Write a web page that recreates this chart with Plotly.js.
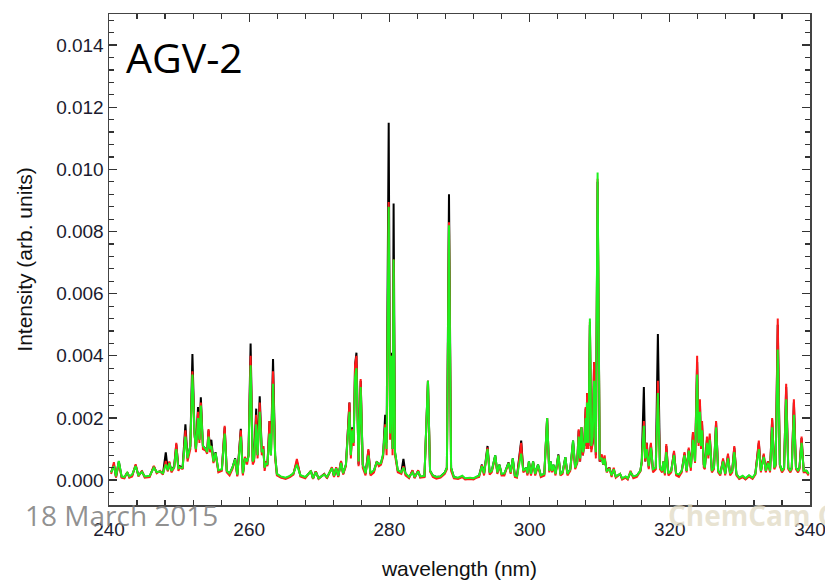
<!DOCTYPE html>
<html>
<head>
<meta charset="utf-8">
<script src="https://cdn.plot.ly/plotly-3.0.1.min.js"></script>
<style>html,body{margin:0;padding:0;background:#fff;}#chart{width:825px;height:580px;}</style>
</head>
<body>
<div id="chart"></div>
<script>
// wavelength (nm)
const wavelength = [
240.3,240.7,241.0,241.4,241.8,242.2,242.6,242.9,243.3,243.8,
244.2,244.7,245.1,245.8,246.4,246.8,247.3,247.7,248.1,248.4,
248.6,248.9,249.3,249.6,249.9,250.1,250.5,250.9,251.2,251.6,
251.9,252.2,252.4,252.7,252.9,253.1,253.4,253.8,254.0,254.2,
254.4,254.6,254.9,255.2,255.6,256.1,256.5,256.8,257.2,257.6,
258.0,258.3,258.8,259.1,259.4,259.7,259.9,260.2,260.5,260.7,
261.0,261.2,261.5,261.8,262.0,262.2,262.4,262.6,262.9,263.1,
263.4,263.7,263.95,264.5,265.2,265.8,266.3,266.8,267.3,268.0,
268.8,269.1,269.5,269.9,270.7,271.1,271.8,272.1,272.4,272.7,
273.1,273.4,273.8,274.3,274.5,274.7,274.9,275.1,275.3,275.6,
275.9,276.2,276.6,277.0,277.3,277.8,278.2,278.5,278.8,279.1,
279.4,279.6,279.9,280.1,280.3,280.45,280.6,280.8,281.2,281.7,
282.0,282.3,282.8,283.3,283.6,284.1,284.4,285.0,285.5,285.8,
286.2,286.7,287.3,287.9,288.2,288.5,288.8,289.2,289.8,290.4,
290.8,291.5,292.0,292.4,292.8,293.2,293.5,294.0,294.3,294.6,
295.1,295.4,295.7,296.0,296.4,297.0,297.3,297.6,297.9,298.2,
298.8,299.1,299.5,299.7,299.9,300.2,300.5,300.8,301.2,301.6,
302.1,302.5,302.8,303.0,303.2,303.4,303.7,304.1,304.4,304.7,
305.1,305.4,305.8,306.2,306.5,306.8,307.0,307.2,307.4,307.6,
307.8,308.0,308.1,308.2,308.4,308.6,308.8,309.0,309.2,309.45,
309.7,310.0,310.3,310.5,310.7,311.0,311.4,311.7,312.0,312.3,
312.9,313.2,313.7,314.0,314.4,314.8,315.3,315.8,316.0,316.3,
316.5,316.7,317.0,317.3,317.6,318.0,318.3,318.6,318.9,319.1,
319.3,319.5,319.8,320.2,320.6,320.9,321.3,321.7,322.1,322.4,
322.7,323.0,323.3,323.6,323.9,324.1,324.3,324.45,324.6,324.85,
325.0,325.3,325.5,325.7,326.0,326.3,326.6,326.9,327.2,327.6,
327.9,328.3,328.6,328.9,329.2,329.5,329.9,330.4,330.8,331.3,
331.8,332.2,332.7,333.0,333.4,333.7,334.0,334.3,334.6,334.9,
335.1,335.4,335.7,336.0,336.3,336.6,336.9,337.2,337.4,337.7,
338.0,338.3,338.5,338.8,339.1,339.5,339.8
];
// intensity, black spectrum
const blackSeries = [
.00025,.00050,.00010,.00060,.00010,.00008,.00025,.00010,.00015,.00048,
.00015,.00028,.00010,.00012,.00044,.00025,.00028,.00020,.00089,.00030,
.00058,.00030,.00045,.00115,.00040,.00045,.00040,.00180,.00070,.00110,
.00406,.00150,.00100,.00235,.00130,.00267,.00110,.00100,.00090,.00160,
.00100,.00130,.00060,.00090,.00030,.00035,.00170,.00030,.00020,.00040,
.00070,.00015,.00165,.00020,.00070,.00060,.00080,.00440,.00060,.00070,
.00230,.00080,.00270,.00090,.00110,.00040,.00060,.00050,.00190,.00080,
.00390,.00080,.00020,.00010,.00006,.00012,.00020,.00060,.00015,.00008,
.00030,.00005,.00028,.00005,.00020,.00008,.00040,.00012,.00040,.00012,
.00060,.00020,.00050,.00250,.00080,.00170,.00120,.00370,.00410,.00050,
.00320,.00050,.00020,.00095,.00020,.00030,.00060,.00050,.00055,.00080,
.00210,.00120,.01150,.00150,.00410,.00100,.00890,.00090,.00030,.00025,
.00068,.00020,.00008,.00030,.00008,.00030,.00010,.00012,.00320,.00030,
.00015,.00010,.00012,.00025,.00040,.00920,.00040,.00010,.00006,.00012,
.00004,.00006,.00004,.00010,.00015,.00050,.00020,.00110,.00025,.00030,
.00080,.00025,.00050,.00020,.00020,.00057,.00025,.00070,.00015,.00012,
.00127,.00030,.00040,.00020,.00060,.00020,.00060,.00020,.00050,.00015,
.00020,.00200,.00030,.00060,.00030,.00050,.00020,.00083,.00020,.00025,
.00074,.00020,.00035,.00127,.00040,.00060,.00160,.00060,.00170,.00080,
.00120,.00230,.00110,.00280,.00110,.00500,.00100,.00120,.00380,.00080,
.00960,.00060,.00075,.00050,.00070,.00030,.00040,.00015,.00035,.00010,
.00020,.00005,.00010,.00004,.00025,.00010,.00015,.00030,.00060,.00300,
.00060,.00120,.00040,.00115,.00030,.00040,.00470,.00040,.00030,.00060,
.00020,.00110,.00020,.00030,.00090,.00020,.00015,.00030,.00085,.00030,
.00100,.00040,.00150,.00060,.00380,.00120,.00250,.00110,.00180,.00050,
.00040,.00130,.00080,.00140,.00030,.00040,.00185,.00030,.00020,.00065,
.00020,.00080,.00020,.00030,.00105,.00020,.00006,.00012,.00004,.00014,
.00006,.00020,.00120,.00030,.00080,.00030,.00060,.00030,.00195,.00040,
.00050,.00500,.00050,.00030,.00040,.00300,.00040,.00030,.00040,.00250,
.00040,.00030,.00040,.00135,.00030,.00030,.00020
];
// intensity, red spectrum
const redSeries = [
.00020,.00058,.00008,.00055,.00008,.00006,.00026,.00008,.00012,.00051,
.00012,.00030,.00008,.00010,.00046,.00022,.00030,.00018,.00062,.00028,
.00060,.00025,.00040,.00120,.00030,.00042,.00035,.00160,.00060,.00100,
.00350,.00150,.00090,.00220,.00120,.00250,.00100,.00095,.00085,.00164,
.00090,.00110,.00055,.00085,.00025,.00030,.00175,.00025,.00015,.00035,
.00065,.00012,.00160,.00015,.00075,.00050,.00080,.00400,.00050,.00060,
.00210,.00070,.00250,.00080,.00110,.00030,.00060,.00045,.00190,.00080,
.00350,.00070,.00015,.00008,.00004,.00010,.00018,.00068,.00012,.00006,
.00030,.00004,.00028,.00004,.00020,.00006,.00042,.00010,.00042,.00010,
.00062,.00018,.00045,.00250,.00070,.00165,.00110,.00370,.00400,.00045,
.00325,.00040,.00015,.00100,.00015,.00025,.00060,.00045,.00050,.00075,
.00180,.00080,.00895,.00130,.00400,.00080,.00710,.00080,.00025,.00020,
.00045,.00015,.00006,.00032,.00006,.00032,.00008,.00010,.00320,.00028,
.00010,.00005,.00008,.00020,.00035,.00830,.00030,.00006,.00004,.00010,
.00002,.00004,.00002,.00008,.00010,.00048,.00015,.00105,.00018,.00025,
.00075,.00020,.00048,.00015,.00015,.00055,.00020,.00065,.00010,.00008,
.00120,.00025,.00035,.00015,.00058,.00015,.00058,.00015,.00045,.00010,
.00015,.00200,.00025,.00055,.00025,.00045,.00015,.00080,.00015,.00020,
.00070,.00015,.00030,.00120,.00035,.00055,.00164,.00060,.00170,.00080,
.00120,.00235,.00100,.00280,.00100,.00510,.00090,.00120,.00380,.00070,
.00970,.00060,.00083,.00050,.00080,.00025,.00040,.00010,.00040,.00008,
.00020,.00002,.00008,.00002,.00030,.00006,.00010,.00028,.00055,.00190,
.00060,.00120,.00035,.00120,.00025,.00035,.00320,.00035,.00025,.00060,
.00015,.00116,.00015,.00025,.00094,.00015,.00010,.00025,.00090,.00025,
.00105,.00030,.00155,.00055,.00400,.00110,.00260,.00100,.00190,.00040,
.00035,.00140,.00070,.00150,.00025,.00035,.00190,.00025,.00015,.00070,
.00015,.00085,.00015,.00025,.00110,.00015,.00004,.00010,.00002,.00012,
.00004,.00018,.00127,.00025,.00085,.00025,.00060,.00025,.00200,.00035,
.00045,.00520,.00045,.00025,.00035,.00310,.00035,.00025,.00035,.00260,
.00035,.00025,.00035,.00140,.00025,.00025,.00015
];
// intensity, green spectrum
const greenSeries = [
.00025,.00045,.00012,.00062,.00012,.00010,.00024,.00012,.00018,.00045,
.00016,.00026,.00012,.00014,.00040,.00026,.00028,.00022,.00050,.00032,
.00055,.00030,.00042,.00100,.00038,.00040,.00040,.00140,.00070,.00110,
.00340,.00150,.00100,.00200,.00130,.00240,.00110,.00100,.00090,.00140,
.00100,.00110,.00060,.00088,.00032,.00035,.00150,.00030,.00022,.00040,
.00068,.00018,.00140,.00022,.00070,.00060,.00075,.00370,.00060,.00070,
.00180,.00080,.00220,.00090,.00100,.00040,.00055,.00050,.00150,.00080,
.00310,.00080,.00020,.00012,.00008,.00014,.00022,.00050,.00016,.00010,
.00028,.00006,.00026,.00006,.00018,.00010,.00038,.00014,.00038,.00014,
.00055,.00022,.00050,.00220,.00080,.00160,.00120,.00330,.00360,.00060,
.00300,.00050,.00022,.00080,.00022,.00032,.00058,.00052,.00055,.00085,
.00170,.00100,.00880,.00150,.00400,.00100,.00710,.00090,.00032,.00025,
.00040,.00022,.00010,.00025,.00010,.00028,.00012,.00014,.00320,.00030,
.00015,.00010,.00012,.00025,.00040,.00820,.00040,.00010,.00008,.00014,
.00006,.00008,.00006,.00010,.00015,.00045,.00022,.00100,.00025,.00030,
.00080,.00025,.00050,.00020,.00022,.00055,.00025,.00070,.00015,.00012,
.00085,.00030,.00040,.00022,.00060,.00020,.00060,.00020,.00050,.00015,
.00020,.00200,.00030,.00060,.00030,.00050,.00020,.00080,.00020,.00025,
.00074,.00020,.00035,.00127,.00040,.00060,.00140,.00070,.00170,.00090,
.00110,.00200,.00120,.00250,.00120,.00520,.00110,.00140,.00320,.00090,
.00990,.00070,.00070,.00050,.00070,.00030,.00035,.00015,.00035,.00012,
.00020,.00006,.00012,.00006,.00025,.00012,.00015,.00030,.00060,.00175,
.00070,.00100,.00045,.00105,.00035,.00040,.00280,.00040,.00030,.00060,
.00022,.00090,.00022,.00030,.00080,.00022,.00018,.00030,.00080,.00030,
.00095,.00040,.00130,.00060,.00340,.00120,.00220,.00110,.00160,.00050,
.00040,.00120,.00080,.00130,.00030,.00040,.00170,.00030,.00020,.00060,
.00020,.00070,.00022,.00030,.00090,.00020,.00008,.00014,.00006,.00016,
.00008,.00020,.00100,.00030,.00075,.00030,.00055,.00030,.00170,.00040,
.00050,.00420,.00050,.00030,.00040,.00260,.00040,.00030,.00040,.00210,
.00040,.00030,.00040,.00120,.00030,.00030,.00020
];

const xTicks = [240, 260, 280, 300, 320, 340];

const traces = [
  {x: wavelength, y: blackSeries, type: 'scatter', mode: 'lines', line: {color: '#000000', width: 2}, hoverinfo: 'skip'},
  {x: wavelength, y: redSeries, type: 'scatter', mode: 'lines', line: {color: '#ff1a1a', width: 2}, hoverinfo: 'skip'},
  {x: wavelength, y: greenSeries, type: 'scatter', mode: 'lines', line: {color: '#1ef01e', width: 2}, hoverinfo: 'skip'}
];

const axisFont = {family: 'Liberation Sans, Arial, sans-serif', size: 19, color: '#1b1b2e'};
const layout = {
  width: 825, height: 580,
  margin: {l: 109, r: 15, t: 14, b: 75, pad: 0},
  paper_bgcolor: '#ffffff', plot_bgcolor: '#ffffff',
  showlegend: false,
  xaxis: {
    range: [240, 340], tickvals: xTicks, ticktext: xTicks.map(String),
    ticks: 'inside', ticklen: 8, tickwidth: 1.3, tickcolor: '#333',
    minor: {dtick: 4, tick0: 240, ticks: 'inside', ticklen: 5, tickwidth: 1.2, tickcolor: '#333', showgrid: false},
    mirror: 'allticks', showline: true, linecolor: '#444', linewidth: 1.5,
    showgrid: false, zeroline: false, tickfont: axisFont, ticklabelstandoff: 7,
    ticklabeloverflow: 'allow',
    title: {text: 'wavelength (nm)', font: {family: 'Liberation Sans, Arial, sans-serif', size: 21, color: '#111'}, standoff: 24},
    automargin: false
  },
  yaxis: {
    range: [-0.0008, 0.015], dtick: 0.002, tick0: 0, tickformat: '.3f',
    ticks: 'inside', ticklen: 8, tickwidth: 1.3, tickcolor: '#333',
    minor: {dtick: 0.0004, tick0: 0, ticks: 'inside', ticklen: 5, tickwidth: 1.2, tickcolor: '#333', showgrid: false},
    mirror: 'allticks', showline: true, linecolor: '#444', linewidth: 1.5,
    showgrid: false, zeroline: false, tickfont: axisFont,
    title: {text: 'Intensity (arb. units)', font: {family: 'Liberation Sans, Arial, sans-serif', size: 21, color: '#111'}, standoff: 18},
    automargin: false
  },
  annotations: [
    {text: 'AGV-2', xref: 'paper', yref: 'paper', x: 0.021, y: 0.912, xanchor: 'left', yanchor: 'middle', showarrow: false,
     font: {family: 'Open Sans, sans-serif', size: 41, color: '#000'}},
    {text: '18 March 2015', xref: 'paper', yref: 'paper', x: -0.122, y: -0.02, xanchor: 'left', yanchor: 'middle', showarrow: false,
     font: {family: 'Open Sans, sans-serif', size: 28, color: 'rgba(125,125,125,0.85)'}},
    {text: 'ChemCam C', xref: 'paper', yref: 'paper', x: 0.795, y: -0.02, xanchor: 'left', yanchor: 'middle', showarrow: false,
     font: {family: 'Open Sans, sans-serif', size: 28, weight: 'bold', color: 'rgba(225,218,195,0.75)'}}
  ]
};

Plotly.newPlot('chart', traces, layout, {staticPlot: true, displayModeBar: false});
</script>
</body>
</html>
